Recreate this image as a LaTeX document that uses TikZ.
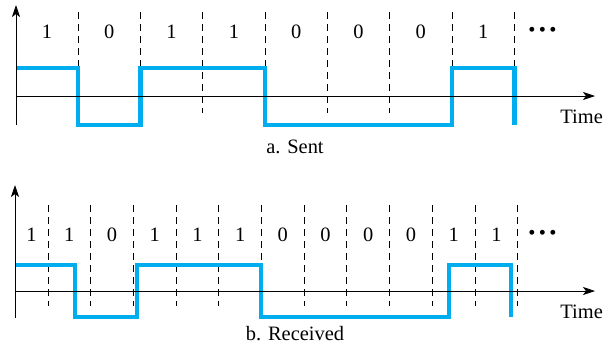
\documentclass[tikz,border=0pt]{standalone}
\usepackage{fontspec}
\setmainfont{Liberation Serif}
\usepackage{xcolor}
\definecolor{sigcyan}{RGB}{0,174,239}
\usetikzlibrary{arrows.meta}

\begin{document}
\begin{tikzpicture}[x=1bp, y=-1bp,
  axis/.style={black, line width=0.8bp, -{Stealth[length=12bp, width=8bp, inset=3bp]}},
  bitline/.style={black, line width=1bp, dash pattern=on 7bp off 5bp},
  signal/.style={sigcyan, line width=4.5bp},
  bitlabel/.style={font=\fontsize{20.5}{20.5}\selectfont, inner sep=0pt},
  caption/.style={font=\fontsize{20.5}{20.5}\selectfont, inner sep=0pt}]
\useasboundingbox (0,0) rectangle (604,347);

% --- a. Sent ---
\foreach \xx in {78,140.3,202.6,265,327.3,389.6,452,514.3}
  \draw[bitline] (\xx,12) -- (\xx,113);
\draw[signal] (16,68) -| (78,125) -| (140.3,68) -| (265,125) -| (452,68) -| (514.3,125);
\draw[axis] (16,125) -- (16,5);
\draw[axis] (16,96) -- (595,96);
\foreach \bit [count=\i from 0] in {1,0,1,1,0,0,0,1}
  \node[bitlabel] (sa\i) at (47+62.3*\i,32) {\bit};
\node[bitlabel] (sadots) at (542.5,32) {\textbullet\,\textbullet\,\textbullet};
\node[caption, anchor=east] (satime) at (603,116.5) {Time};
\node[caption] (sacap) at (295,147) {a. Sent};

% --- b. Received ---
\foreach \k in {0,...,11}
  \draw[bitline] (48+42.7*\k,205) -- (48+42.7*\k,306);
\draw[signal] (15,265) -| (75,317) -| (137,265) -| (261,317) -| (449,265) -| (511,317);
\draw[axis] (15,318) -- (15,185);
\draw[axis] (15,291) -- (595,291);
\node[bitlabel] (rb0) at (31.5,235) {1};
\foreach \bit [count=\i from 1] in {1,0,1,1,1,0,0,0,0,1,1}
  \node[bitlabel] (rb\i) at (48+42.7*\i-21.35,235) {\bit};
\node[bitlabel] (rbdots) at (542.5,235) {\textbullet\,\textbullet\,\textbullet};
\node[caption, anchor=east] (rbtime) at (603,312) {Time};
\node[caption] (rbcap) at (295,334) {b. Received};

\end{tikzpicture}
\end{document}
